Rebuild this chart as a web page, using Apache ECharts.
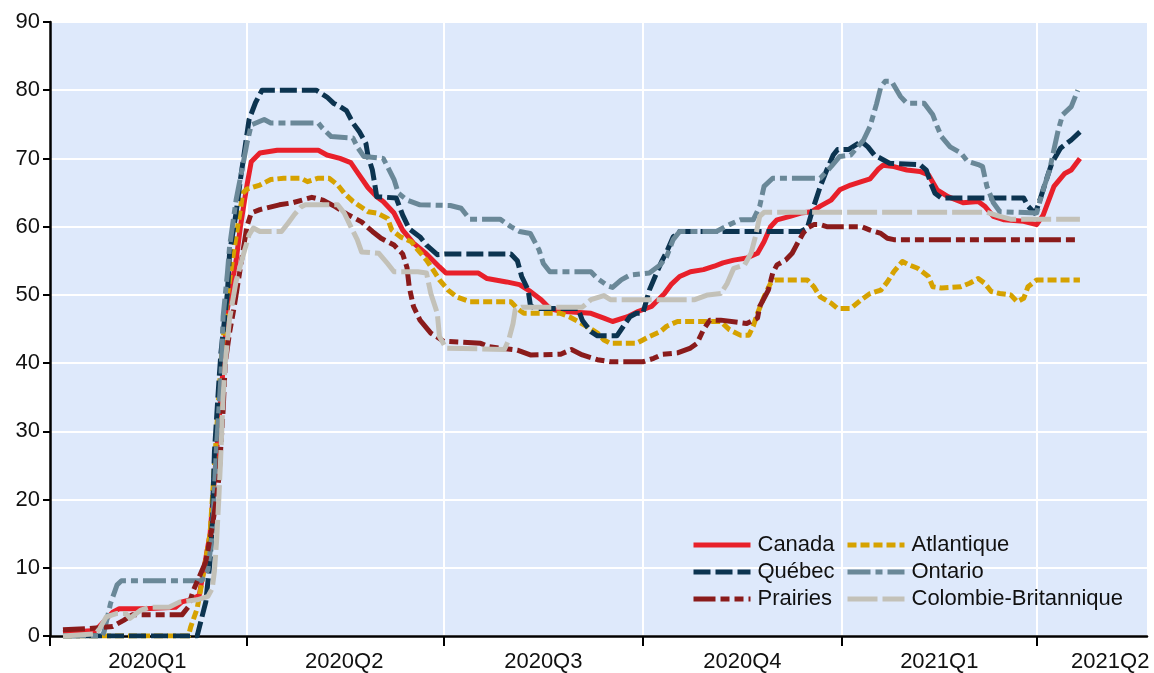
<!DOCTYPE html>
<html>
<head>
<meta charset="utf-8">
<script src="https://cdn.jsdelivr.net/npm/echarts@6/dist/echarts.min.js"></script>
<style>
  html, body { margin: 0; padding: 0; background: #fff; }
  #chart { width: 1154px; height: 673px; }
</style>
</head>
<body>
<div id="chart"></div>
<script>
// quarter boundaries (ticks + vertical grid) and where the quarter names sit
var quarterStarts = ['2020-01-01', '2020-04-01', '2020-07-01', '2020-10-01', '2021-01-01', '2021-04-01'];
var quarterLabelDates = ['2020-02-15', '2020-05-16', '2020-08-16', '2020-11-16', '2021-02-15', '2021-05-05'];
var axisStart = '2020-01-01';
var axisEnd = '2021-05-22';

var canada = [
    ['2020-01-07', 0.5], ['2020-01-22', 0.8], ['2020-01-30', 3.5], ['2020-02-02', 4], ['2020-02-14', 4],
    ['2020-02-28', 4.2], ['2020-03-02', 5], ['2020-03-07', 5.4], ['2020-03-10', 6], ['2020-03-15', 15],
    ['2020-03-20', 35], ['2020-03-23', 48], ['2020-03-27', 55], ['2020-03-29', 60], ['2020-04-01', 66],
    ['2020-04-03', 69.5], ['2020-04-07', 70.8], ['2020-04-15', 71.2], ['2020-05-04', 71.2], ['2020-05-08', 70.5],
    ['2020-05-14', 70], ['2020-05-19', 69.4], ['2020-05-22', 68], ['2020-05-27', 65.7], ['2020-05-31', 64.4],
    ['2020-06-03', 63.7], ['2020-06-08', 62], ['2020-06-12', 59.5], ['2020-06-17', 57.6], ['2020-06-23', 56],
    ['2020-06-29', 54.1], ['2020-07-02', 53.2], ['2020-07-17', 53.2], ['2020-07-21', 52.4], ['2020-07-30', 51.9],
    ['2020-08-05', 51.5], ['2020-08-10', 50.5], ['2020-08-15', 49.3], ['2020-08-19', 48], ['2020-08-24', 47.6],
    ['2020-09-07', 47.3], ['2020-09-13', 46.6], ['2020-09-17', 46.1], ['2020-09-24', 46.8], ['2020-09-29', 47.6],
    ['2020-10-05', 48.3], ['2020-10-11', 50.2], ['2020-10-14', 51.5], ['2020-10-18', 52.7], ['2020-10-23', 53.4],
    ['2020-10-29', 53.7], ['2020-11-03', 54.2], ['2020-11-07', 54.7], ['2020-11-12', 55.1], ['2020-11-18', 55.4],
    ['2020-11-23', 56.1], ['2020-11-26', 57.8], ['2020-11-29', 60], ['2020-12-02', 61], ['2020-12-08', 61.5],
    ['2020-12-13', 62], ['2020-12-18', 62.2], ['2020-12-22', 63], ['2020-12-27', 63.9], ['2020-12-31', 65.4],
    ['2021-01-05', 66.1], ['2021-01-10', 66.6], ['2021-01-14', 67], ['2021-01-18', 68.5], ['2021-01-20', 69],
    ['2021-01-25', 68.8], ['2021-01-31', 68.3], ['2021-02-06', 68.1], ['2021-02-10', 67.6], ['2021-02-14', 65.4],
    ['2021-02-19', 64.4], ['2021-02-26', 63.5], ['2021-03-05', 63.7], ['2021-03-08', 63], ['2021-03-12', 61.5],
    ['2021-03-17', 61], ['2021-03-26', 60.8], ['2021-04-01', 60.3], ['2021-04-04', 61.7], ['2021-04-09', 65.9],
    ['2021-04-14', 67.8], ['2021-04-17', 68.3], ['2021-04-21', 70]
];

var quebec = [
    ['2020-01-07', 0], ['2020-03-09', 0], ['2020-03-13', 5], ['2020-03-15', 11], ['2020-03-16', 16.5],
    ['2020-03-17', 27], ['2020-03-19', 37], ['2020-03-20', 41.5], ['2020-03-23', 50.3], ['2020-03-24', 56.2],
    ['2020-03-27', 62], ['2020-03-29', 66.9], ['2020-03-31', 71.3], ['2020-04-02', 75.7], ['2020-04-05', 78.2],
    ['2020-04-08', 80], ['2020-05-03', 80], ['2020-05-08', 79], ['2020-05-11', 78.1], ['2020-05-14', 77.6],
    ['2020-05-17', 77], ['2020-05-20', 75.2], ['2020-05-23', 73.9], ['2020-05-26', 72.2], ['2020-05-27', 70.3],
    ['2020-05-29', 68.3], ['2020-05-30', 66.4], ['2020-05-31', 64.4], ['2020-06-09', 64.2], ['2020-06-12', 61.7],
    ['2020-06-15', 59.7], ['2020-06-20', 58.5], ['2020-06-23', 57.3], ['2020-06-28', 55.9], ['2020-07-02', 56],
    ['2020-08-01', 56], ['2020-08-04', 55], ['2020-08-06', 52.7], ['2020-08-09', 50.7], ['2020-08-10', 48.5],
    ['2020-08-12', 48], ['2020-09-01', 48], ['2020-09-03', 46.3], ['2020-09-07', 44.6], ['2020-09-10', 44],
    ['2020-09-19', 44], ['2020-09-22', 45.4], ['2020-09-25', 46.8], ['2020-09-28', 47.3], ['2020-10-01', 47.3],
    ['2020-10-04', 50.7], ['2020-10-08', 53.7], ['2020-10-10', 55.1], ['2020-10-12', 56.3], ['2020-10-15', 58.5],
    ['2020-10-18', 59.3], ['2020-12-13', 59.3], ['2020-12-16', 59.8], ['2020-12-18', 62], ['2020-12-19', 63],
    ['2020-12-22', 65.9], ['2020-12-25', 68.3], ['2020-12-28', 70.5], ['2020-12-30', 71.3], ['2021-01-04', 71.3],
    ['2021-01-06', 71.7], ['2021-01-10', 72.5], ['2021-01-13', 71.7], ['2021-01-16', 70.5], ['2021-01-19', 70],
    ['2021-01-23', 69.3], ['2021-02-06', 69.1], ['2021-02-09', 68.3], ['2021-02-11', 66.4], ['2021-02-13', 64.9],
    ['2021-02-16', 64.2], ['2021-03-26', 64.2], ['2021-03-28', 63], ['2021-03-31', 62], ['2021-04-01', 62.5],
    ['2021-04-03', 64.4], ['2021-04-05', 66.4], ['2021-04-08', 69.3], ['2021-04-12', 71.5], ['2021-04-17', 72.7],
    ['2021-04-21', 73.9]
];

var atlantique = [
    ['2020-01-07', 0], ['2020-03-05', 0], ['2020-03-06', 1.3], ['2020-03-09', 4], ['2020-03-11', 7.5],
    ['2020-03-15', 15], ['2020-03-17', 25], ['2020-03-20', 40], ['2020-03-23', 50], ['2020-03-26', 56.6],
    ['2020-03-29', 62.5], ['2020-03-30', 64.9], ['2020-04-01', 65.5], ['2020-04-07', 66.1], ['2020-04-12', 66.9],
    ['2020-04-18', 67.1], ['2020-04-26', 67.1], ['2020-04-29', 66.6], ['2020-05-04', 67.1], ['2020-05-09', 67.1],
    ['2020-05-13', 66.1], ['2020-05-16', 64.9], ['2020-05-20', 63.7], ['2020-05-27', 62.2], ['2020-05-31', 62],
    ['2020-06-05', 61.2], ['2020-06-07', 59.5], ['2020-06-11', 58.5], ['2020-06-16', 57.8], ['2020-06-19', 56.6],
    ['2020-06-23', 55.1], ['2020-06-26', 53.7], ['2020-06-29', 52.2], ['2020-07-03', 50.7], ['2020-07-07', 49.7],
    ['2020-07-13', 49], ['2020-08-01', 49], ['2020-08-04', 48], ['2020-08-07', 47.3], ['2020-08-24', 47.3],
    ['2020-08-28', 46.8], ['2020-09-01', 46.1], ['2020-09-05', 45.4], ['2020-09-10', 44.4], ['2020-09-13', 43.4],
    ['2020-09-16', 42.9], ['2020-09-28', 42.9], ['2020-10-01', 43.4], ['2020-10-04', 43.9], ['2020-10-09', 44.6],
    ['2020-10-12', 45.4], ['2020-10-17', 46.1], ['2020-11-06', 46.1], ['2020-11-10', 44.9], ['2020-11-15', 44.1],
    ['2020-11-19', 44.1], ['2020-11-21', 45.4], ['2020-11-23', 47.3], ['2020-11-26', 49.7], ['2020-11-29', 51.7],
    ['2020-12-01', 52.2], ['2020-12-16', 52.2], ['2020-12-19', 51.2], ['2020-12-22', 49.7], ['2020-12-27', 48.8],
    ['2020-12-30', 48], ['2021-01-05', 48], ['2021-01-10', 49.3], ['2021-01-14', 50.2], ['2021-01-19', 50.7],
    ['2021-01-22', 51.9], ['2021-01-25', 53.4], ['2021-01-29', 54.9], ['2021-02-01', 54.4], ['2021-02-05', 53.9],
    ['2021-02-10', 52.7], ['2021-02-12', 51.2], ['2021-02-16', 51], ['2021-02-25', 51.2], ['2021-03-01', 51.7],
    ['2021-03-05', 52.4], ['2021-03-08', 51.7], ['2021-03-11', 50.5], ['2021-03-15', 50.2], ['2021-03-20', 50],
    ['2021-03-23', 49], ['2021-03-26', 49.5], ['2021-03-28', 51.2], ['2021-04-01', 52.2], ['2021-04-21', 52.2]
];

var ontario = [
    ['2020-01-07', 0], ['2020-01-25', 0], ['2020-01-26', 0.6], ['2020-01-29', 4.8], ['2020-02-01', 7.5],
    ['2020-02-03', 8.1], ['2020-03-11', 8.1], ['2020-03-14', 9.7], ['2020-03-16', 15], ['2020-03-18', 28],
    ['2020-03-20', 38], ['2020-03-21', 46.8], ['2020-03-23', 53.2], ['2020-03-24', 57.1], ['2020-03-27', 63.9],
    ['2020-03-30', 68.8], ['2020-04-01', 72.2], ['2020-04-03', 74.9], ['2020-04-09', 75.7], ['2020-04-12', 75.2],
    ['2020-05-04', 75.2], ['2020-05-06', 74.4], ['2020-05-10', 73.2], ['2020-05-20', 73], ['2020-05-22', 71.7],
    ['2020-05-25', 70.3], ['2020-06-03', 70], ['2020-06-05', 68.8], ['2020-06-08', 66.9], ['2020-06-10', 64.9],
    ['2020-06-14', 63.9], ['2020-06-20', 63.2], ['2020-07-04', 63.1], ['2020-07-09', 62.7], ['2020-07-13', 61.1],
    ['2020-07-27', 61.1], ['2020-08-01', 60], ['2020-08-05', 59.3], ['2020-08-10', 59], ['2020-08-14', 56.6],
    ['2020-08-16', 54.6], ['2020-08-19', 53.4], ['2020-09-07', 53.4], ['2020-09-10', 52.4], ['2020-09-15', 51.3],
    ['2020-09-17', 51.1], ['2020-09-21', 52.2], ['2020-09-25', 52.9], ['2020-10-04', 53.2], ['2020-10-09', 54.4],
    ['2020-10-12', 55.6], ['2020-10-15', 58.1], ['2020-10-18', 59.3], ['2020-11-04', 59.3], ['2020-11-10', 60.3],
    ['2020-11-15', 61], ['2020-11-21', 61], ['2020-11-24', 63], ['2020-11-26', 65.9], ['2020-11-30', 67.1],
    ['2020-12-22', 67.1], ['2020-12-27', 68.8], ['2020-12-31', 70.3], ['2021-01-05', 70.5], ['2021-01-11', 72.7],
    ['2021-01-14', 74.7], ['2021-01-17', 78], ['2021-01-19', 80.5], ['2021-01-21', 81.3], ['2021-01-24', 81.3],
    ['2021-01-28', 79.1], ['2021-01-31', 78.1], ['2021-02-08', 78.1], ['2021-02-12', 76.4], ['2021-02-14', 74.7],
    ['2021-02-16', 73.2], ['2021-02-20', 71.7], ['2021-02-25', 70.8], ['2021-02-28', 69.6], ['2021-03-05', 69.1],
    ['2021-03-07', 68.8], ['2021-03-09', 65.9], ['2021-03-12', 63.5], ['2021-03-15', 62.2], ['2021-04-01', 62],
    ['2021-04-04', 65.4], ['2021-04-07', 68.3], ['2021-04-09', 71.3], ['2021-04-11', 74.2], ['2021-04-13', 76.4],
    ['2021-04-17', 77.6], ['2021-04-20', 80]
];

var prairies = [
    ['2020-01-07', 0.9], ['2020-01-19', 1.1], ['2020-01-30', 1.4], ['2020-02-04', 2.3], ['2020-02-08', 3.1],
    ['2020-03-02', 3.1], ['2020-03-05', 4.3], ['2020-03-07', 6.5], ['2020-03-10', 8.7], ['2020-03-13', 10.9],
    ['2020-03-16', 16], ['2020-03-18', 20.4], ['2020-03-19', 23], ['2020-03-21', 33], ['2020-03-22', 40],
    ['2020-03-24', 44.5], ['2020-03-26', 48], ['2020-03-28', 52], ['2020-03-30', 56], ['2020-04-01', 60],
    ['2020-04-03', 62], ['2020-04-07', 62.5], ['2020-04-16', 63.2], ['2020-04-22', 63.5], ['2020-05-01', 64.3],
    ['2020-05-06', 63.9], ['2020-05-12', 62.9], ['2020-05-18', 61.7], ['2020-05-24', 60.7], ['2020-05-29', 59.3],
    ['2020-06-02', 58.3], ['2020-06-08', 57.3], ['2020-06-12', 56], ['2020-06-14', 54], ['2020-06-15', 51.2],
    ['2020-06-17', 48.3], ['2020-06-20', 46.3], ['2020-06-25', 44.4], ['2020-07-01', 43.2], ['2020-07-18', 42.9],
    ['2020-07-22', 42.4], ['2020-08-04', 41.9], ['2020-08-10', 41.2], ['2020-08-24', 41.3], ['2020-08-29', 42],
    ['2020-09-03', 41.2], ['2020-09-10', 40.5], ['2020-09-16', 40.2], ['2020-10-01', 40.2], ['2020-10-06', 40.7],
    ['2020-10-10', 41.3], ['2020-10-17', 41.5], ['2020-10-23', 42.2], ['2020-10-26', 42.9], ['2020-10-29', 44.9],
    ['2020-11-01', 46.3], ['2020-11-06', 46.3], ['2020-11-18', 45.8], ['2020-11-23', 46.6], ['2020-11-24', 48.3],
    ['2020-11-28', 50.7], ['2020-11-30', 53.2], ['2020-12-02', 54.4], ['2020-12-06', 55.1], ['2020-12-09', 56.1],
    ['2020-12-11', 57.3], ['2020-12-14', 59], ['2020-12-16', 59.8], ['2020-12-19', 60.3], ['2020-12-22', 60.3],
    ['2020-12-25', 60], ['2021-01-10', 60], ['2021-01-14', 59.5], ['2021-01-19', 59], ['2021-01-22', 58.3],
    ['2021-01-25', 58.1], ['2021-04-20', 58.1]
];

var colombieBritannique = [
    ['2020-01-07', 0], ['2020-01-22', 0.3], ['2020-01-24', 1.1], ['2020-01-27', 2.8], ['2020-02-01', 3.3],
    ['2020-02-05', 3.3], ['2020-02-07', 2.6], ['2020-02-12', 3.8], ['2020-02-16', 4.2], ['2020-02-25', 4.2],
    ['2020-03-01', 5], ['2020-03-09', 5.3], ['2020-03-14', 5.8], ['2020-03-16', 7], ['2020-03-17', 9.5],
    ['2020-03-18', 14], ['2020-03-19', 20], ['2020-03-20', 27], ['2020-03-21', 35], ['2020-03-22', 40],
    ['2020-03-24', 46.5], ['2020-03-27', 52], ['2020-03-30', 55.5], ['2020-04-02', 58.8], ['2020-04-04', 59.8],
    ['2020-04-07', 59.3], ['2020-04-17', 59.3], ['2020-04-20', 60.5], ['2020-04-23', 61.8], ['2020-04-26', 62.9],
    ['2020-04-28', 63.2], ['2020-05-13', 63.2], ['2020-05-16', 62], ['2020-05-19', 60], ['2020-05-22', 58.1],
    ['2020-05-24', 56.3], ['2020-06-01', 56.1], ['2020-06-05', 54.6], ['2020-06-08', 53.4], ['2020-06-19', 53.4],
    ['2020-06-23', 53.2], ['2020-06-25', 50.2], ['2020-06-28', 47.3], ['2020-06-29', 43.9], ['2020-07-02', 42.2],
    ['2020-07-29', 42], ['2020-07-31', 43.4], ['2020-08-02', 45.8], ['2020-08-03', 47.8], ['2020-08-06', 48.2],
    ['2020-09-03', 48.2], ['2020-09-07', 49.3], ['2020-09-13', 49.9], ['2020-09-16', 49.3], ['2020-10-25', 49.3],
    ['2020-10-31', 50], ['2020-11-06', 50.2], ['2020-11-09', 51.7], ['2020-11-12', 53.9], ['2020-11-17', 54.4],
    ['2020-11-20', 56.1], ['2020-11-22', 58.5], ['2020-11-24', 61.5], ['2020-11-26', 62.1], ['2021-03-09', 62.1],
    ['2021-03-15', 61.5], ['2021-03-20', 61.1], ['2021-04-21', 61.1]
];

// dates -> day count since axisStart, so a plain value axis can take custom ticks
function dayNum(s) {
    var p = s.split('-');
    var q = axisStart.split('-');
    var a = Date.UTC(+p[0], +p[1] - 1, +p[2]);
    var b = Date.UTC(+q[0], +q[1] - 1, +q[2]);
    return Math.round((a - b) / 864e5);
}

function quarterName(v) {
    var q = axisStart.split('-');
    var d = new Date(Date.UTC(+q[0], +q[1] - 1, +q[2]) + Math.round(v) * 864e5);
    return d.getUTCFullYear() + 'Q' + (Math.floor(d.getUTCMonth() / 3) + 1);
}

function toPoints(arr) {
    return arr.map(function(p) { return [dayNum(p[0]), p[1]]; });
}

function makeSeries(name, data, color, dash) {
    return {
        name: name,
        type: 'line',
        data: toPoints(data),
        symbol: 'none',
        showSymbol: false,
        itemStyle: { color: color },
        lineStyle: { color: color, width: 5, type: dash, join: 'round' },
        emphasis: { disabled: true }
    };
}

var font = 'Liberation Sans, Arial, sans-serif';

function makeLegend(left, names) {
    return {
        left: left,
        top: 534,
        orient: 'vertical',
        padding: 0,
        itemWidth: 57,
        itemHeight: 14,
        itemGap: 5,
        selectedMode: false,
        data: names,
        itemStyle: { opacity: 0 },
        lineStyle: { width: 5 },
        textStyle: { fontSize: 22, color: '#111', fontFamily: font, padding: [0, 0, 0, 2] }
    };
}

var chart = echarts.init(document.getElementById('chart'));
chart.setOption({
    animation: false,
    backgroundColor: '#fff',
    grid: {
        left: 50, right: 7, top: 22, bottom: 37,
        show: true, backgroundColor: '#dee9fb', borderWidth: 0
    },
    legend: [
        makeLegend(691, ['Canada', 'Québec', 'Prairies']),
        makeLegend(845, ['Atlantique', 'Ontario', 'Colombie-Britannique'])
    ],
    xAxis: {
        type: 'value',
        min: 0,
        max: dayNum(axisEnd),
        axisLine: { show: true, onZero: false, lineStyle: { color: '#000', width: 2.5 } },
        axisTick: {
            show: true, length: 10, customValues: quarterStarts.map(dayNum),
            lineStyle: { color: '#000', width: 2 }
        },
        axisLabel: {
            customValues: quarterLabelDates.map(dayNum),
            formatter: quarterName,
            fontSize: 22, color: '#111', fontFamily: font, margin: 15
        },
        splitLine: { show: true, lineStyle: { color: '#fff', width: 2 } }
    },
    yAxis: {
        type: 'value',
        min: 0, max: 90, interval: 10,
        axisLine: { show: true, lineStyle: { color: '#000', width: 2.5 } },
        axisTick: { show: true, length: 7, lineStyle: { color: '#000', width: 2 } },
        axisLabel: { fontSize: 22, color: '#111', fontFamily: font, margin: 10 },
        splitLine: { show: true, lineStyle: { color: '#fff', width: 2 } }
    },
    series: [
        makeSeries('Canada', canada, '#e8202a', 'solid'),
        makeSeries('Atlantique', atlantique, '#d6a200', [9, 4]),
        makeSeries('Québec', quebec, '#0c3450', [17, 5]),
        makeSeries('Ontario', ontario, '#6a8898', [23, 5, 7, 5]),
        makeSeries('Prairies', prairies, '#8a1b1b', [22, 5, 9, 5, 9, 5]),
        makeSeries('Colombie-Britannique', colombieBritannique, '#c3c1b8', [30, 5])
    ]
});
</script>
</body>
</html>
